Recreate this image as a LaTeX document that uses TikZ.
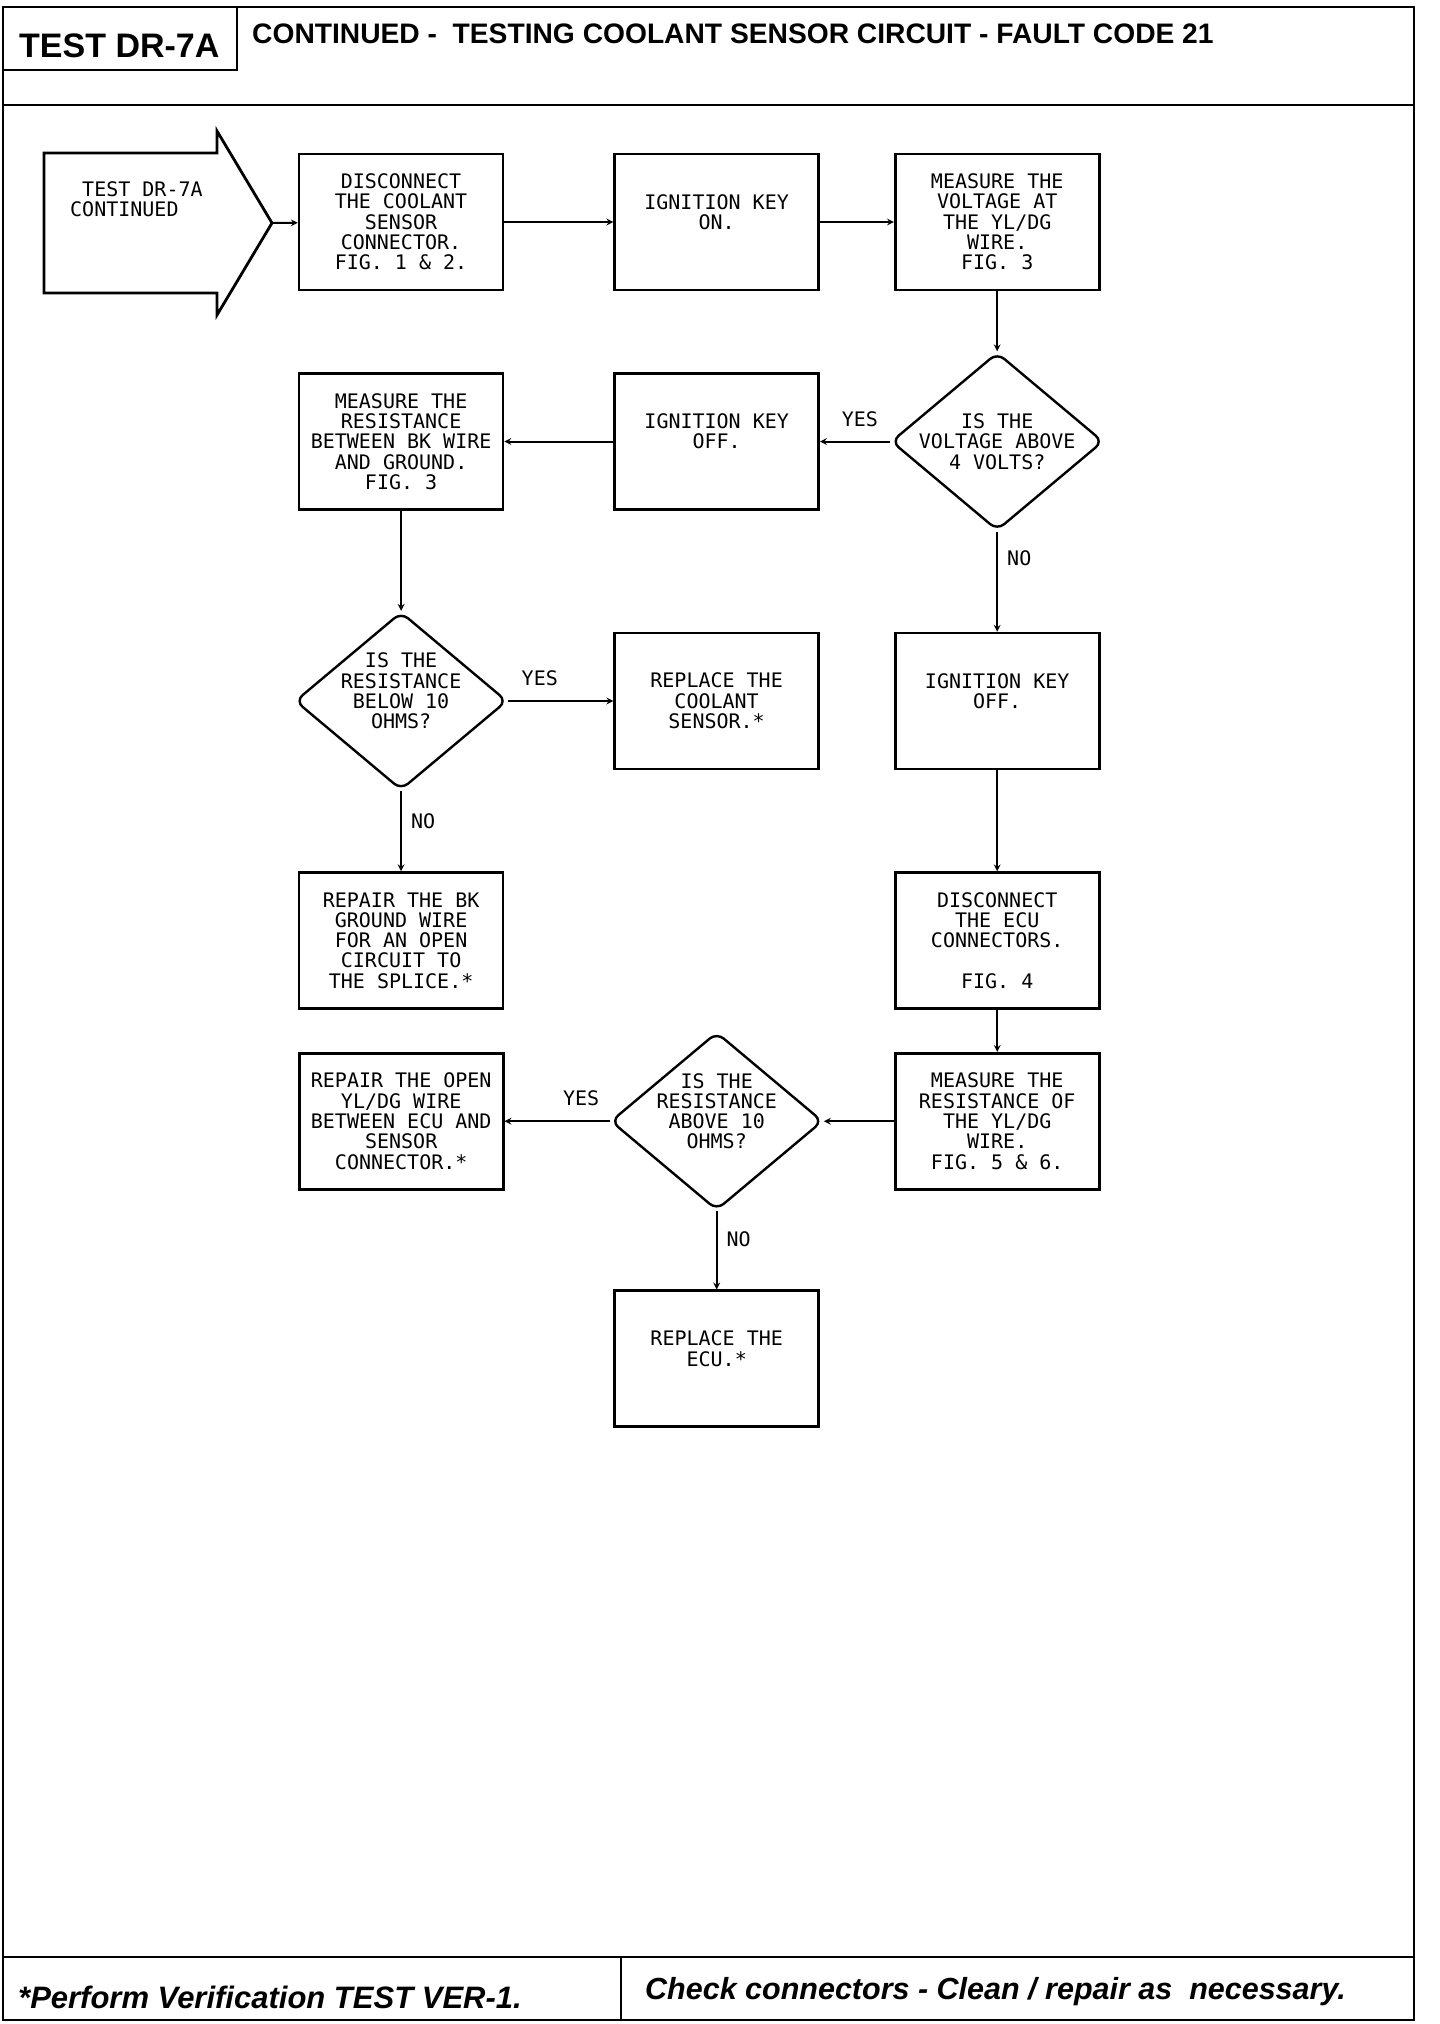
\documentclass[tikz,border=0pt]{standalone}
\usepackage{fontspec}
\usepackage{tikz}
\usetikzlibrary{shapes.geometric,arrows,positioning}
\newfontfamily\plotfont{DejaVu Sans Mono}
\newfontfamily\headfont{Liberation Sans}
\newcommand{\plotsize}{\plotfont\fontsize{20}{20.3}\selectfont}
\tikzstyle{block} = [rectangle, minimum width=204pt, minimum height=136pt,
    align=center, draw=black, line width=2.6pt, font=\plotsize]
\tikzstyle{decision} = [diamond, minimum width=212pt, minimum height=178pt,
    inner sep=-12pt, rounded corners=9pt, align=center, draw=black,
    line width=2.4pt, font=\plotsize]
\tikzstyle{arrow} = [line width=2pt,->,>=stealth]
\tikzstyle{answer} = [inner sep=0pt, font=\plotsize]
\tikzstyle{pageline} = [line width=2.8pt]

\begin{document}
\begin{tikzpicture}[x=1pt, y=-1pt]
\useasboundingbox (0,0) rectangle (1440,2024);

% ── Page frame ────
\draw[pageline] (3,7) rectangle (1414,2020);
\draw[pageline] (3,70) -- (237,70) -- (237,7);
\draw[pageline] (3,105) -- (1414,105);
\draw[pageline] (3,1957) -- (1414,1957);
\draw[pageline] (621,1957) -- (621,2020);

% ── Header / footer ────
\node[anchor=base west, inner sep=0pt, font=\headfont\bfseries\fontsize{34}{36}\selectfont] (testid) at (19,57) {TEST DR-7A};
\node[anchor=base west, inner sep=0pt, font=\headfont\bfseries\fontsize{28.2}{30}\selectfont] (title) at (252,43) {CONTINUED -\ \ TESTING COOLANT SENSOR CIRCUIT - FAULT CODE 21};
\node[anchor=base west, inner sep=0pt, font=\headfont\bfseries\itshape\fontsize{31}{33}\selectfont] (verify) at (18,2008) {*Perform Verification TEST VER-1.};
\node[anchor=base west, inner sep=0pt, font=\headfont\bfseries\itshape\fontsize{30.5}{33}\selectfont] (clean) at (645,1999) {Check connectors - Clean / repair as\ \ necessary.};

% ── Entry arrow ────
\draw[pageline] (44,153) -- (217,153) -- (217,131) -- (272,223) -- (217,315) -- (217,293) -- (44,293) -- cycle;
\coordinate (entry) at (272,223);
\node[answer, align=left, anchor=west] (entrytxt) at (70,199) {\hphantom{X}TEST DR-7A\\CONTINUED};

% ── Top row ────
\node[block] (discon) at (401,222) {DISCONNECT\\THE COOLANT\\SENSOR\\CONNECTOR.\\FIG. 1 \& 2.};
\node[block, right=109pt of discon] (keyon) {IGNITION KEY\\ON.\\~};
\node[block, right=74pt of keyon] (measvolt) {MEASURE THE\\VOLTAGE AT\\THE YL/DG\\WIRE.\\FIG. 3};

% ── Voltage check ────
\node[decision, below=60pt of measvolt] (voltq) {IS THE\\VOLTAGE ABOVE\\4 VOLTS?};
\node[block, left=70pt of voltq] (keyoffA) {IGNITION KEY\\OFF.\\~};
\node[block, left=109pt of keyoffA] (measbk) {MEASURE THE\\RESISTANCE\\BETWEEN BK WIRE\\AND GROUND.\\FIG. 3};

% ── BK ground check ────
\node[decision, below=100pt of measbk] (bkq) {IS THE\\RESISTANCE\\BELOW 10\\OHMS?\\~};
\node[block, right=105pt of bkq] (replsensor) {REPLACE THE\\COOLANT\\SENSOR.*};
\node[block, below=80pt of bkq] (repairbk) {REPAIR THE BK\\GROUND WIRE\\FOR AN OPEN\\CIRCUIT TO\\THE SPLICE.*};

% ── ECU path ────
\node[block, below=100pt of voltq] (keyoffB) {IGNITION KEY\\OFF.\\~};
\node[block, below=101pt of keyoffB] (disecu) {DISCONNECT\\THE ECU\\CONNECTORS.\\~\\FIG. 4};
\node[block, below=42pt of disecu] (measyl) {MEASURE THE\\RESISTANCE OF\\THE YL/DG\\WIRE.\\FIG. 5 \& 6.};
\node[decision, left=70pt of measyl] (ylq) {IS THE\\RESISTANCE\\ABOVE 10\\OHMS?\\~};
\node[block, left=105pt of ylq] (repairyl) {REPAIR THE OPEN\\YL/DG WIRE\\BETWEEN ECU AND\\SENSOR\\CONNECTOR.*};
\node[block, below=78pt of ylq] (replecu) {REPLACE THE\\ECU.*\\~};

% ── Arrows ────
\draw[arrow] (entry) -- (discon);
\draw[arrow] (discon) -- (keyon);
\draw[arrow] (keyon) -- (measvolt);
\draw[arrow] (measvolt) -- (voltq);
\draw[arrow] (voltq) -- node[answer, above=14pt, pos=0.43] (yesvolt) {YES} (keyoffA);
\draw[arrow] (keyoffA) -- (measbk);
\draw[arrow] (measbk) -- (bkq);
\draw[arrow] (bkq) -- node[answer, above=14pt, pos=0.3] (yesbk) {YES} (replsensor);
\draw[arrow] (bkq) -- node[answer, right=9pt, pos=0.38] (nobk) {NO} (repairbk);
\draw[arrow] (voltq) -- node[answer, right=9pt, pos=0.27] (novolt) {NO} (keyoffB);
\draw[arrow] (keyoffB) -- (disecu);
\draw[arrow] (disecu) -- (measyl);
\draw[arrow] (measyl) -- (ylq);
\draw[arrow] (ylq) -- node[answer, above=14pt, pos=0.27] (yesyl) {YES} (repairyl);
\draw[arrow] (ylq) -- node[answer, right=9pt, pos=0.36] (noyl) {NO} (replecu);

\end{tikzpicture}
\end{document}
